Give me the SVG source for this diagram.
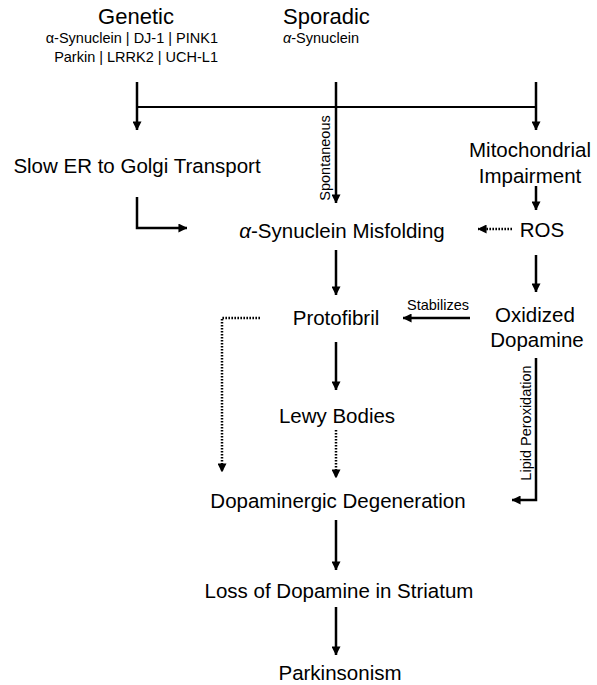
<svg xmlns="http://www.w3.org/2000/svg" width="597" height="685" viewBox="0 0 597 685">
<style>
text{font-family:"Liberation Sans",Arial,sans-serif;fill:#000}
.t{font-size:22px}
.m{font-size:20.5px;text-anchor:middle}
.s{font-size:14.5px}
.c{fill:none;stroke:#000;stroke-width:2.5}
.h{fill:none;stroke:#000;stroke-width:2}
.d{fill:none;stroke:#000;stroke-width:2.5;stroke-dasharray:1.6 1.4}
</style>
<defs>
<marker id="a" viewBox="0 0 10 10" refX="9.5" refY="5" markerWidth="9" markerHeight="9" markerUnits="userSpaceOnUse" orient="auto">
<path d="M0,0 L10,5 L0,10 z" fill="#000"/>
</marker>
</defs>
<rect width="597" height="685" fill="#fff"/>
<g id="genetic">
<text class="t" x="136" y="24" text-anchor="middle">Genetic</text>
<text class="s" x="218" y="43" text-anchor="end">α-Synuclein | DJ-1 | PINK1</text>
<text class="s" x="218" y="62" text-anchor="end">Parkin | LRRK2 | UCH-L1</text>
</g>
<g id="sporadic">
<text class="t" x="283" y="24">Sporadic</text>
<text class="s" x="283" y="43"><tspan font-style="italic">α</tspan>-Synuclein</text>
</g>
<g id="slow-er"><text class="m" x="137" y="173">Slow ER to Golgi Transport</text></g>
<g id="mito"><text class="m" x="530" y="157">Mitochondrial</text><text class="m" x="530" y="183">Impairment</text></g>
<g id="misfolding"><text class="m" x="342" y="238"><tspan font-style="italic">α</tspan>-Synuclein Misfolding</text></g>
<g id="ros"><text class="m" x="542" y="237">ROS</text></g>
<g id="protofibril"><text class="m" x="336" y="325">Protofibril</text></g>
<g id="oxidized"><text class="m" x="535" y="322">Oxidized</text><text class="m" x="537" y="347">Dopamine</text></g>
<g id="lewy"><text class="m" x="337" y="423">Lewy Bodies</text></g>
<g id="degeneration"><text class="m" x="338" y="508">Dopaminergic Degeneration</text></g>
<g id="loss"><text class="m" x="339" y="598">Loss of Dopamine in Striatum</text></g>
<g id="parkinsonism"><text class="m" x="340" y="680">Parkinsonism</text></g>
<g id="connectors">
<line class="c" x1="137" y1="82" x2="137" y2="130" marker-end="url(#a)"/>
<line class="h" x1="137" y1="107" x2="536" y2="107"/>
<line class="c" x1="336" y1="82" x2="336" y2="203" marker-end="url(#a)"/>
<line class="c" x1="536" y1="82" x2="536" y2="130" marker-end="url(#a)"/>
<line class="c" x1="536" y1="186" x2="536" y2="210" marker-end="url(#a)"/>
<polyline class="c" points="137,197 137,228 187,228" marker-end="url(#a)"/>
<line class="d" x1="512" y1="229" x2="478" y2="229" marker-end="url(#a)"/>
<line class="c" x1="536" y1="255" x2="536" y2="292" marker-end="url(#a)"/>
<line class="c" x1="336" y1="250" x2="336" y2="295" marker-end="url(#a)"/>
<line class="c" x1="470" y1="318" x2="403" y2="318" marker-end="url(#a)"/>
<polyline class="d" points="260,318 222,318 222,472" marker-end="url(#a)"/>
<line class="c" x1="336" y1="342" x2="336" y2="390" marker-end="url(#a)"/>
<line class="d" x1="336" y1="430" x2="336" y2="478" marker-end="url(#a)"/>
<polyline class="c" points="536,358 536,500 512,500" marker-end="url(#a)"/>
<line class="c" x1="336" y1="520" x2="336" y2="570" marker-end="url(#a)"/>
<line class="c" x1="336" y1="607" x2="336" y2="655" marker-end="url(#a)"/>
<text class="s" transform="translate(330,158) rotate(-90)" text-anchor="middle">Spontaneous</text>
<text class="s" x="438" y="310" text-anchor="middle">Stabilizes</text>
<text class="s" transform="translate(531,423) rotate(-90)" text-anchor="middle">Lipid Peroxidation</text>
</g>
</svg>
